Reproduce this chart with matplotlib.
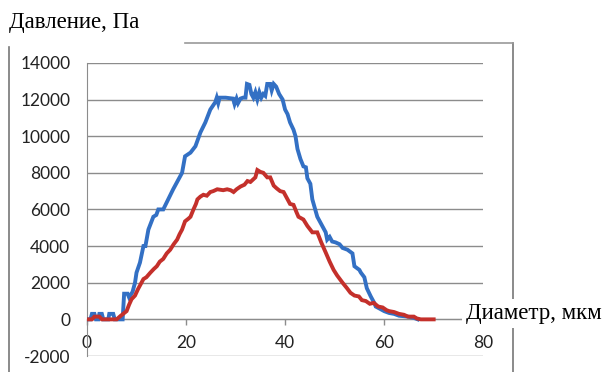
import matplotlib.pyplot as plt
from matplotlib.lines import Line2D

plt.rcParams['axes.unicode_minus'] = False

# Blue series (upper curve)
blue_x = [0, 0.7, 1, 1.5, 1.8, 2.3, 2.5, 3, 3.3, 4.3, 4.5, 5.3, 5.6, 7.2, 7.5, 8.2, 8.5, 9.2, 9.7,
          10, 10.7, 11.4, 11.8, 12.4, 13.4, 14, 14.4, 15.4, 16.4, 17.4, 18.2, 19.2, 19.8, 20.9,
          21.9, 22.9, 23.9, 24.9, 25.9, 26.2, 26.5, 26.8, 28, 29.5, 29.8, 30.2, 30.5, 31, 31.5,
          32, 32.3, 32.8, 33.2, 33.6, 34, 34.4, 34.8, 35.2, 35.6, 36, 36.4, 37, 37.3, 37.7,
          38.2, 38.8, 39.5, 40, 40.5, 41, 41.7, 42.1, 42.5, 43.1, 43.7, 44.2, 44.5, 45.1, 45.5,
          46.5, 47.5, 48.2, 48.5, 49, 49.5, 50.2, 51, 51.6, 52.6, 53.6, 54, 55, 55.3, 56, 56.5,
          57.3, 58, 58.3, 59, 60, 61, 62, 63, 64.8, 66, 66.8]
blue_y = [0, 0, 300, 300, 0, 0, 300, 300, 0, 0, 300, 300, 0, 0, 1400, 1400, 1200, 1500, 2000,
          2550, 3100, 4000, 4000, 4900, 5600, 5700, 6000, 6000, 6550, 7100, 7500, 8000, 8900, 9100,
          9450, 10200, 10750, 11450, 11850, 12100, 11800, 12100, 12100, 12050, 11750, 12050, 11800, 12050, 12100,
          12100, 12850, 12800, 12300, 12100, 12400, 12000, 12400, 12100, 12300, 12200, 12850, 12850, 12500, 12850,
          12700, 12300, 12000, 11450, 11200, 10750, 10350, 10000, 9300, 8750, 8350, 8300, 7700, 7400, 6550,
          5600, 5100, 4750, 4350, 4500, 4250, 4200, 4100, 3900, 3800, 3600, 2900, 2700, 2550, 2300, 1700,
          1250, 900, 700, 600, 450, 350, 300, 200, 150, 80, 0]

# Red series (lower curve)
red_x = [0, 1, 1.5, 2.5, 3, 6, 6.7, 7.3, 8, 8.5, 9, 9.7, 10.3, 10.8, 11.4, 12, 12.8, 13.5, 14.1,
         14.7, 15.4, 16.1, 16.8, 17.5, 18.2, 18.7, 19.2, 19.8, 20.5, 20.9, 21.5, 22, 22.3, 22.9,
         23.5, 24.2, 24.9, 25.5, 26.3, 27.5, 28.3, 29, 29.6, 30.2, 31, 31.8, 32.4, 33, 33.6, 34,
         34.4, 35, 35.6, 36.4, 37, 37.7, 38.3, 39, 39.7, 40.5, 41, 41.7, 42.3, 42.7, 43.7, 44.5,
         45.5, 46.5, 47.3, 48.2, 49, 49.8, 50.5, 51.6, 52.5, 53.2, 54, 54.9, 55.5, 56.3, 57.1,
         57.9, 58.8, 59.7, 60.5, 61, 62, 63, 64, 64.8, 66, 66.6, 67.4, 70]
red_y = [0, 0, 150, 150, 0, 0, 170, 300, 450, 800, 1100, 1300, 1650, 1900, 2200, 2300, 2550, 2750, 2900,
         3150, 3300, 3600, 3800, 4100, 4350, 4650, 4900, 5350, 5500, 5600, 6000, 6300, 6550, 6700,
         6800, 6750, 6950, 7000, 7100, 7050, 7100, 7050, 6950, 7100, 7250, 7350, 7550, 7500, 7650, 7750,
         8150, 8050, 8000, 7750, 7750, 7300, 7150, 7000, 6950, 6550, 6300, 6250, 5850, 5600, 5450, 5100,
         4750, 4750, 4200, 3650, 3150, 2700, 2400, 2000, 1700, 1450, 1300, 1250, 1050, 1000, 850,
         900, 700, 650, 500, 450, 400, 300, 250, 150, 150, 50, 0, 0]

x_ticks = [0, 20, 40, 60, 80]
y_ticks = list(range(-2000, 14001, 2000))

grid_col = '#8c8c8c'

fig = plt.figure(figsize=(6.04, 3.72), dpi=100)
ax = fig.add_axes([0.144, 0.043, 0.656, 0.788])

ax.plot(blue_x, blue_y, color='#3370c4', linewidth=2.8, solid_joinstyle='miter', zorder=3)
ax.plot(red_x, red_y, color='#c4302b', linewidth=2.8, solid_joinstyle='miter', zorder=3)

ax.set_xlim(0, 80)
ax.set_ylim(-2000, 14000)
ax.set_xticks(x_ticks)
ax.set_yticks(y_ticks)
ax.grid(axis='y', color=grid_col, linewidth=1)

for s in ['top', 'right']:
    ax.spines[s].set_visible(False)
ax.spines['bottom'].set_position(('data', 0))
ax.spines['bottom'].set_color(grid_col)
ax.spines['left'].set_color(grid_col)

ax.tick_params(axis='x', length=4, width=1, color=grid_col, pad=7, labelsize=12.5)
ax.tick_params(axis='y', length=0, pad=12, labelsize=12.5)
for lab in ax.get_xticklabels() + ax.get_yticklabels():
    lab.set_fontfamily('Lato')
    lab.set_color('#222222')

fig.text(0.015, 0.94, 'Давление, Па', family='Liberation Serif', fontsize=16.5, va='center', ha='left')
fig.text(0.772, 0.158, 'Диаметр, мкм', family='Liberation Serif', fontsize=16.5, va='center', ha='left',
         bbox=dict(facecolor='white', edgecolor='none', pad=3), zorder=5)

# outer frame fragments
fcol = '#777777'
fig.add_artist(Line2D([0.015, 0.015], [0.0, 0.873], color=fcol, linewidth=1.2))
fig.add_artist(Line2D([0.306, 0.849], [0.884, 0.884], color='#999999', linewidth=1.2))
fig.add_artist(Line2D([0.849, 0.849], [0.0, 0.884], color=fcol, linewidth=1.2, zorder=1))

fig.savefig('out.png', dpi=100)
